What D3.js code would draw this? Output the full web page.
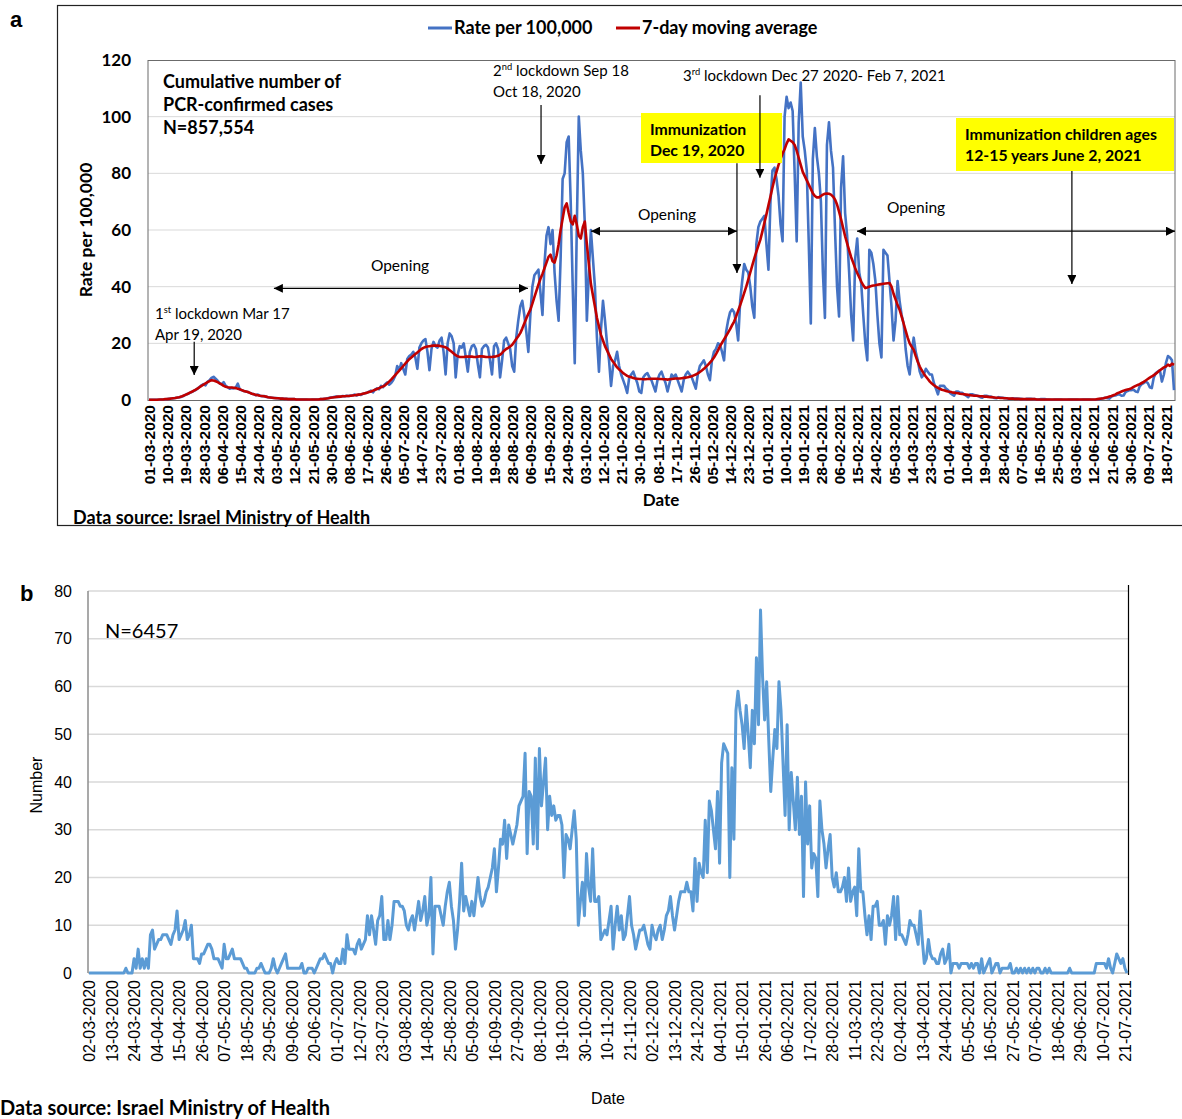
<!DOCTYPE html>
<html>
<head>
<meta charset="utf-8">
<script src="https://cdn.jsdelivr.net/npm/d3@7/dist/d3.min.js"></script>
<style>
  body { margin: 0; background: #fff; }
  svg { display: block; font-family: "Liberation Sans", Arial, sans-serif; }
  .cal { font-family: Lato, "Liberation Sans", sans-serif; }
</style>
</head>
<body>
<svg id="chart" width="1182" height="1119"></svg>
<script>
// ---- Panel a: daily rate per 100,000 (01-03-2020 .. 22-07-2021)
const rateA = [
  0.1,0.1,0.1,0.1,0.1,0.1,0.2,0.2,0.2,0.3, 0.4,0.5,0.6,0.7,0.8,1.0,1.1,1.4,1.8,2.1,
  2.4,2.8,3.1,3.5,4.0,4.6,5.2,5.6,5.2,6.4, 7.0,7.8,8.2,7.5,6.8,5.9,5.5,6.3,5.0,4.5,
  4.0,4.2,4.1,4.4,5.8,3.7,3.4,3.2,3.0,2.8, 2.5,2.2,2.0,1.7,1.9,1.5,1.3,1.4,1.1,1.0,
  0.9,0.8,0.7,0.7,0.6,0.5,0.5,0.4,0.4,0.3, 0.3,0.3,0.3,0.2,0.2,0.2,0.2,0.2,0.2,0.1,
  0.1,0.2,0.2,0.2,0.2,0.3,0.3,0.4,0.5,0.7, 0.9,1.0,1.1,1.2,1.1,1.2,1.4,1.3,1.5,1.4,
  1.6,1.7,1.9,1.6,2.0,1.8,2.2,2.4,2.6,2.9, 3.3,2.7,3.6,4.1,3.8,5.0,4.5,5.6,6.2,5.4,
  6.0,7.0,8.5,12.0,10.5,13.0,11.0,9.0,14.5,15.5, 16.0,17.0,15.0,11.0,18.5,20.0,21.0,21.5,17.0,10.5,
  18.0,20.5,19.0,18.5,21.0,22.0,17.0,9.0,20.0,23.5, 22.5,20.0,8.0,16.0,19.0,18.5,20.0,15.0,10.0,17.0,
  19.0,19.5,18.0,12.5,8.0,18.0,19.0,19.5,18.5,14.0, 9.0,19.0,20.0,18.0,8.0,14.0,21.0,22.0,20.0,18.0,
  12,10,22,28,33,35,30,24,17,30, 40,44,45,46,38,30,48,58,61,55,
  60,45,35,28,50,78,80,91,93,70, 40,13,60,100,88,80,62,28,45,60,
  50,40,22,10,25,35,28,20,14,5, 12,14,17,12,9,7,5,2.5,8,9,
  10,8,6,3,2.5,8,9,9.5,8,7, 5,3,7,9,10,8,6,3,6,9,
  8,9,7,5,3,7,9,10,9,8, 6,4,9,12,13,14,12,9,7,14,
  17,18,20,19.5,17,14,24,28,31,32, 31,27,21,35,42,48,46,45,40,33,
  29,55,61,63,64,65,55,46,70,81, 82,78,72,62,56,100,107,103,105,102,
  80,56,98,112,93,88,81,55,27,85, 96,86,80,70,45,29,90,98,88,82,
  60,40,29.5,75,86,66,58,45,30,21, 50,57,45,41,30,20,14,53,52,48,
  42,30,20,15,53,52,51,42,33,21, 28,42,35,30,27,18,12,9,17,22,
  17,14,10,8,9,11,10,9,9,6, 4,2,5,5,5,4,3.5,2.5,2,1.5,
  3,3,2.5,2.5,2,1.5,1,2,2,1.8, 1.6,1.4,1,0.8,1.5,1.5,1.3,1.2,1,0.7,
  0.6,1,0.9,0.8,0.7,0.6,0.4,0.4,0.6,0.5, 0.5,0.4,0.4,0.3,0.2,0.4,0.4,0.4,0.3,0.3,
  0.2,0.2,0.3,0.3,0.3,0.2,0.2,0.1,0.1,0.2, 0.2,0.2,0.2,0.1,0.1,0.1,0.2,0.2,0.2,0.2,
  0.2,0.1,0.1,0.2,0.2,0.2,0.2,0.1,0.1,0.1, 0.2,0.3,0.4,0.6,0.8,0.6,0.5,1.2,1.5,1.6,
  1.9,2.0,1.5,1.6,2.8,3.2,3.5,3.5,3.6,3.0, 2.8,4.8,5.6,6.0,6.5,6.0,4.5,4.2,8.0,9.5,
  10.0,10.5,6.5,9.0,13.0,15.5,15.0,14.0,3.5
];
const avgA = [
  0.1,0.1,0.1,0.1,0.1,0.2,0.2,0.2,0.3,0.3, 0.4,0.5,0.6,0.7,0.9,1.0,1.2,1.5,1.8,2.1,
  2.5,2.8,3.2,3.6,4.0,4.5,5.0,5.4,5.9,6.3, 6.7,7.0,6.9,6.6,6.3,5.9,5.5,5.0,4.7,4.5,
  4.4,4.4,4.3,4.2,4.0,3.8,3.5,3.2,3.0,2.8, 2.5,2.2,2.0,1.8,1.7,1.5,1.4,1.3,1.2,1.0,
  0.9,0.8,0.7,0.6,0.6,0.5,0.5,0.4,0.4,0.3, 0.3,0.3,0.3,0.2,0.2,0.2,0.2,0.2,0.2,0.2,
  0.2,0.2,0.2,0.2,0.2,0.3,0.3,0.4,0.5,0.6, 0.8,0.9,1.0,1.1,1.2,1.2,1.3,1.3,1.4,1.4,
  1.5,1.6,1.7,1.8,1.9,2.0,2.2,2.4,2.6,2.8, 3.0,3.3,3.6,3.9,4.2,4.5,4.8,5.2,5.8,6.5,
  7.2,8.0,8.8,9.6,10.4,11.2,12.0,12.8,13.6,14.4, 15.0,15.6,16.2,16.8,17.4,18.0,18.4,18.7,18.9,19.0,
  19.1,19.2,19.2,19.2,19.1,19.0,18.8,18.6,18.2,17.6, 17.0,16.4,15.8,15.4,15.2,15.2,15.2,15.3,15.3,15.3,
  15.3,15.2,15.2,15.3,15.4,15.4,15.3,15.2,15.2,15.2, 15.2,15.3,15.4,15.6,16.0,16.6,17.4,18.0,18.4,18.9,
  19.5,20.5,21.5,22.5,23.6,25.2,27.0,28.8,30.4,31.9, 34.0,36.3,38.5,40.7,42.8,44.5,46.5,48.5,50.5,51.3,
  49.0,48.5,51.0,55.0,60.0,64.0,68.0,69.4,66.0,63.0, 62.0,65.0,62.0,58.0,57.0,61.0,63.0,55.0,48.0,41.0,
  37.0,33.0,29.0,26.0,23.0,21.0,19.0,17.5,16.0,14.5, 13.5,12.5,11.5,10.8,10.2,9.5,9.0,8.5,8.2,8.0,
  7.8,7.6,7.5,7.4,7.4,7.3,7.3,7.4,7.4,7.5, 7.5,7.5,7.5,7.4,7.4,7.3,7.3,7.2,7.3,7.4,
  7.5,7.6,7.6,7.6,7.7,7.8,7.9,8.0,8.2,8.4, 8.7,9.0,9.4,9.9,10.4,11.0,11.7,12.4,13.2,14.0,
  15.0,16.2,17.5,19.0,20.2,21.4,22.6,23.8,25.0,26.4, 27.7,29.5,31.5,33.5,35.6,37.8,40.0,42.5,45.0,47.5,
  50.0,52.3,54.5,56.6,59.5,62.5,65.5,68.7,71.8,75.0, 78.0,80.5,83.0,85.0,87.0,88.5,90.5,92.0,91.5,91.0,
  90.0,88.0,85.5,83.0,80.5,79.0,77.5,76.0,74.5,73.0, 72.0,71.5,71.5,72.0,72.5,72.8,72.9,72.8,72.5,71.8,
  70.8,69.0,66.5,63.8,60.8,57.8,55.3,52.8,50.4,48.5, 46.5,44.8,43.3,41.8,40.5,39.5,39.7,40.0,40.2,40.4,
  40.5,40.7,40.8,40.9,41.0,41.1,41.2,41.3,40.0,37.5, 35.5,33.5,31.9,29.5,27.0,24.5,22.0,20.0,18.8,17.7,
  15.5,13.5,11.8,10.5,9.3,8.3,7.4,6.5,5.8,5.2, 4.7,4.3,3.9,3.6,3.4,3.2,3.0,2.9,2.7,2.6,
  2.5,2.4,2.2,2.1,2.0,1.9,1.8,1.7,1.6,1.5, 1.5,1.4,1.3,1.3,1.2,1.2,1.1,1.0,1.0,0.9,
  0.8,0.8,0.7,0.7,0.6,0.6,0.5,0.5,0.5,0.4, 0.4,0.4,0.3,0.3,0.3,0.3,0.3,0.3,0.3,0.3,
  0.2,0.2,0.2,0.2,0.2,0.2,0.2,0.2,0.2,0.2, 0.2,0.2,0.2,0.2,0.2,0.2,0.2,0.2,0.2,0.2,
  0.2,0.2,0.2,0.2,0.2,0.2,0.2,0.2,0.2,0.2, 0.3,0.4,0.5,0.6,0.8,1.0,1.2,1.4,1.7,2.0,
  2.4,2.7,3.0,3.3,3.5,3.7,3.9,4.2,4.6,5.0, 5.3,5.6,6.0,6.4,6.9,7.4,7.9,8.3,8.8,9.3,
  9.9,10.5,11.0,11.5,11.8,12.5,12.0,12.8,12.4
];
const ticksA = ["01-03-2020","10-03-2020","19-03-2020","28-03-2020","06-04-2020","15-04-2020","24-04-2020",
  "03-05-2020","12-05-2020","21-05-2020","30-05-2020","08-06-2020","17-06-2020","26-06-2020","05-07-2020",
  "14-07-2020","23-07-2020","01-08-2020","10-08-2020","19-08-2020","28-08-2020","06-09-2020","15-09-2020",
  "24-09-2020","03-10-2020","12-10-2020","21-10-2020","30-10-2020","08-11-2020","17-11-2020","26-11-2020",
  "05-12-2020","14-12-2020","23-12-2020","01-01-2021","10-01-2021","19-01-2021","28-01-2021","06-02-2021",
  "15-02-2021","24-02-2021","05-03-2021","14-03-2021","23-03-2021","01-04-2021","10-04-2021","19-04-2021",
  "28-04-2021","07-05-2021","16-05-2021","25-05-2021","03-06-2021","12-06-2021","21-06-2021","30-06-2021",
  "09-07-2021","18-07-2021"];
const tickStepA = 9;
const yTicksA = [0, 20, 40, 60, 80, 100, 120];

// ---- Panel b: daily number (02-03-2020 .. 22-07-2021)
const countB = [
  0,0,0,0,0,0,0,0,0,0, 0,0,0,0,0,0,0,0,1,0, 0,0,3,1,5,1,3,1,3,1, 8,9,5,6,7,7,8,8,8,7,
  6,8,9,13,7,8,9,11,7,8, 10,3,3,3,2,4,4,5,6,6, 5,3,3,3,2,1,6,3,3,4, 5,3,3,3,3,2,1,1,0,0,
  0,0,1,1,2,1,0,0,0,1, 3,1,0,1,2,3,4,1,1,1, 1,1,1,1,2,0,0,1,1,1, 0,1,2,3,3,4,3,2,2,0,
  2,3,2,2,5,2,8,5,5,5, 4,6,7,5,6,7,12,8,12,9, 6,11,12,16,7,7,11,7,10,15, 15,15,14,14,13,10,9,11,12,9,
  12,15,11,13,16,10,12,20,4,14, 14,14,12,10,14,17,19,14,11,5, 9,15,23,13,16,14,12,15,12,16,
  20,16,14,15,17,18,20,22,26,17, 22,28,27,32,24,31,29,27,29,31, 35,36,37,46,25,38,37,27,45,26,
  47,35,40,45,30,37,33,35,32,33, 33,31,20,29,28,26,30,34,28,10, 15,19,12,25,18,15,26,15,15,16,
  7,8,9,8,11,14,5,10,14,9, 12,7,8,12,16,10,8,5,7,9, 9,10,8,6,5,10,8,7,9,10,
  7,9,12,13,16,12,9,12,15,17, 17,17,19,17,17,13,24,15,23,21, 20,32,21,36,34,30,26,38,23,44,
  48,47,46,20,43,28,55,59,55,52, 47,56,50,43,55,48,66,52,76,62, 53,61,49,38,45,51,47,61,55,44,
  33,52,30,42,36,30,41,29,37,16, 40,27,35,22,25,24,16,36,30,27, 22,26,29,20,18,21,17,17,18,20,
  15,22,15,17,18,12,26,17,17,12, 8,12,7,14,14,15,10,10,11,6, 12,10,12,16,7,16,8,8,7,6,
  8,11,10,10,8,6,13,7,2,3, 7,4,3,3,2,2,4,5,2,3, 6,0,2,2,2,1,2,2,2,2,
  1,2,1,2,2,0,3,0,1,2, 3,0,1,2,2,0,1,1,1,1, 2,0,0,1,0,1,0,1,0,1,
  0,1,0,1,1,0,0,1,0,1, 0,0,0,0,0,0,0,0,0,1, 0,0,0,0,0,0,0,0,0,0,
  0,0,2,2,2,2,2,1,3,1, 0,2,4,3,2,3,1,0
];
const ticksB = ["02-03-2020","13-03-2020","24-03-2020","04-04-2020","15-04-2020","26-04-2020","07-05-2020",
  "18-05-2020","29-05-2020","09-06-2020","20-06-2020","01-07-2020","12-07-2020","23-07-2020","03-08-2020",
  "14-08-2020","25-08-2020","05-09-2020","16-09-2020","27-09-2020","08-10-2020","19-10-2020","30-10-2020",
  "10-11-2020","21-11-2020","02-12-2020","13-12-2020","24-12-2020","04-01-2021","15-01-2021","26-01-2021",
  "06-02-2021","17-02-2021","28-02-2021","11-03-2021","22-03-2021","02-04-2021","13-04-2021","24-04-2021",
  "05-05-2021","16-05-2021","27-05-2021","07-06-2021","18-06-2021","29-06-2021","10-07-2021","21-07-2021"];
const tickStepB = 11;
const yTicksB = [0, 10, 20, 30, 40, 50, 60, 70, 80];

const svg = d3.select("#chart");

svg.append("defs").append("marker")
  .attr("id", "arr")
  .attr("viewBox", "0 0 10 10")
  .attr("refX", 10).attr("refY", 5)
  .attr("markerWidth", 9).attr("markerHeight", 9)
  .attr("markerUnits", "userSpaceOnUse")
  .attr("orient", "auto-start-reverse")
  .append("path").attr("d", "M0,0 L10,5 L0,10 z").attr("fill", "#000");

/* ================= PANEL A ================= */
const A = { left: 148, right: 1175, top: 60, bottom: 400 };
const xA = d3.scaleLinear().domain([-0.5, rateA.length - 0.5]).range([A.left, A.right]);
const yA = d3.scaleLinear().domain([0, 120]).range([A.bottom, A.top]);
const gA = svg.append("g");

// outer frame
gA.append("rect").attr("x", 57.5).attr("y", 5.5).attr("width", 1140).attr("height", 520)
  .attr("fill", "none").attr("stroke", "#222").attr("stroke-width", 1.2);

gA.append("text").attr("x", 10).attr("y", 27).attr("font-size", 22).attr("font-weight", "bold").text("a");

// gridlines
gA.selectAll("line.grid").data(yTicksA.slice(1, -1)).join("line")
  .attr("class", "grid")
  .attr("x1", A.left).attr("x2", A.right)
  .attr("y1", d => yA(d)).attr("y2", d => yA(d))
  .attr("stroke", "#d9d9d9").attr("stroke-width", 1);

gA.append("rect").attr("x", A.left).attr("y", A.top + 0.5)
  .attr("width", A.right - A.left).attr("height", A.bottom - A.top)
  .attr("fill", "none").attr("stroke", "#6b6b6b").attr("stroke-width", 1);

// axes
const yAxA = gA.append("g").attr("transform", `translate(${A.left},0)`)
  .call(d3.axisLeft(yA).tickValues(yTicksA).tickSize(0).tickPadding(17));
yAxA.select(".domain").remove();
yAxA.selectAll("text").attr("font-size", 17).attr("font-weight", "bold")
  .attr("font-family", "Lato, 'Liberation Sans', sans-serif").attr("fill", "#000");

const xAxA = gA.append("g").attr("transform", `translate(0,${A.bottom})`)
  .call(d3.axisBottom(xA).tickValues(d3.range(0, ticksA.length * tickStepA, tickStepA))
    .tickFormat(i => ticksA[i / tickStepA]).tickSize(0));
xAxA.select(".domain").remove();
xAxA.selectAll("text")
  .attr("transform", "rotate(-90)")
  .attr("text-anchor", "end")
  .attr("x", -5).attr("y", 0).attr("dy", "0.36em")
  .attr("font-size", 15.5).attr("font-weight", "bold").attr("fill", "#000");

// lines
gA.append("path").datum(rateA)
  .attr("d", d3.line().x((d, i) => xA(i)).y(d => yA(d)))
  .attr("fill", "none").attr("stroke", "#4472C4").attr("stroke-width", 2.6)
  .attr("stroke-linejoin", "round");
gA.append("path").datum(avgA)
  .attr("d", d3.line().x((d, i) => xA(i)).y(d => yA(d)))
  .attr("fill", "none").attr("stroke", "#C00000").attr("stroke-width", 2.6)
  .attr("stroke-linejoin", "round");

// legend
const legA = [
  { label: "Rate per 100,000", color: "#4472C4", x: 428 },
  { label: "7-day moving average", color: "#C00000", x: 616 }
];
const lg = gA.selectAll("g.leg").data(legA).join("g").attr("class", "leg")
  .attr("transform", d => `translate(${d.x},28)`);
lg.append("line").attr("x1", 0).attr("x2", 24).attr("stroke", d => d.color).attr("stroke-width", 3);
lg.append("text").attr("class", "cal").attr("x", 26).attr("y", 6)
  .attr("font-size", 18).attr("font-weight", "bold").text(d => d.label);

// axis titles
gA.append("text").attr("class", "cal")
  .attr("transform", "translate(92,230) rotate(-90)").attr("text-anchor", "middle")
  .attr("font-size", 17.5).attr("font-weight", "bold").text("Rate per 100,000");
gA.append("text").attr("class", "cal").attr("x", 661).attr("y", 506).attr("text-anchor", "middle")
  .attr("font-size", 17).attr("font-weight", "bold").text("Date");
gA.append("text").attr("class", "cal").attr("x", 73).attr("y", 524)
  .attr("font-size", 18).attr("font-weight", "bold").text("Data source: Israel Ministry of Health");

// annotations
const cum = gA.append("text").attr("class", "cal").attr("font-size", 18).attr("font-weight", "bold");
["Cumulative number of", "PCR-confirmed cases", "N=857,554"].forEach((t, k) =>
  cum.append("tspan").attr("x", 163).attr("y", 88 + k * 23).text(t));

function supText(x, y, pre, sup, post, size) {
  const t = gA.append("text").attr("class", "cal").attr("x", x).attr("y", y).attr("font-size", size);
  t.append("tspan").text(pre);
  t.append("tspan").attr("font-size", size * 0.62).attr("dy", -6).text(sup);
  t.append("tspan").attr("dy", 6).text(post);
  return t;
}
supText(493, 76, "2", "nd", " lockdown Sep 18", 15);
gA.append("text").attr("class", "cal").attr("x", 493).attr("y", 97).attr("font-size", 15).text("Oct 18, 2020");
supText(683, 81, "3", "rd", " lockdown Dec 27 2020- Feb 7, 2021", 15);
supText(155, 319, "1", "st", " lockdown Mar 17", 15);
gA.append("text").attr("class", "cal").attr("x", 155).attr("y", 340).attr("font-size", 15).text("Apr 19, 2020");

const openings = [
  { from: 61.9, to: 187.8, v: 39.4, tx: 400, ty: 271 },
  { from: 219.1, to: 291.4, v: 59.6, tx: 667, ty: 220 },
  { from: 350.9, to: 508.5, v: 59.6, tx: 916, ty: 213 }
];
openings.forEach(o => {
  gA.append("line").attr("x1", xA(o.from)).attr("x2", xA(o.to))
    .attr("y1", yA(o.v)).attr("y2", yA(o.v))
    .attr("stroke", "#000").attr("stroke-width", 1.2)
    .attr("marker-start", "url(#arr)").attr("marker-end", "url(#arr)");
  gA.append("text").attr("class", "cal").attr("x", o.tx).attr("y", o.ty)
    .attr("text-anchor", "middle").attr("font-size", 15.5).text("Opening");
});

// yellow boxes
const boxes = [
  { x: 641, y: 113, w: 141, h: 50, lines: ["Immunization", "Dec 19, 2020"] },
  { x: 956, y: 118, w: 218, h: 53, lines: ["Immunization children ages", "12-15 years June 2, 2021"] }
];
boxes.forEach(b => {
  gA.append("rect").attr("x", b.x).attr("y", b.y).attr("width", b.w).attr("height", b.h).attr("fill", "#FFFF00");
  const t = gA.append("text").attr("class", "cal").attr("font-size", 15.8).attr("font-weight", "bold");
  b.lines.forEach((l, k) => t.append("tspan").attr("x", b.x + 9).attr("y", b.y + 22 + k * 21).text(l));
});

// vertical arrows (index, value from, value to)
const downArrows = [
  { i: 22.4, v0: 20.6, v1: 8.8 },
  { i: 194.3, v0: 104.1, v1: 83.3 },
  { i: 291.4, v0: 83.6, v1: 44.8 },
  { i: 302.8, v0: 107.6, v1: 78.4 },
  { i: 457.4, v0: 80.8, v1: 40.9 }
];
gA.selectAll("line.darr").data(downArrows).join("line").attr("class", "darr")
  .attr("x1", d => xA(d.i)).attr("x2", d => xA(d.i))
  .attr("y1", d => yA(d.v0)).attr("y2", d => yA(d.v1))
  .attr("stroke", "#000").attr("stroke-width", 1.2).attr("marker-end", "url(#arr)");

/* ================= PANEL B ================= */
const B = { left: 88, right: 1128, top: 591, bottom: 973 };
const xB = d3.scaleLinear().domain([-0.5, countB.length - 0.5]).range([B.left, B.right]);
const yB = d3.scaleLinear().domain([0, 80]).range([B.bottom, B.top]);
const gB = svg.append("g");

gB.append("text").attr("x", 20).attr("y", 601).attr("font-size", 22).attr("font-weight", "bold").text("b");

gB.selectAll("line.grid").data(yTicksB.slice(1)).join("line")
  .attr("class", "grid")
  .attr("x1", B.left).attr("x2", B.right)
  .attr("y1", d => yB(d)).attr("y2", d => yB(d))
  .attr("stroke", "#d9d9d9").attr("stroke-width", 1.3);

gB.append("line").attr("x1", B.left).attr("x2", B.right).attr("y1", B.bottom).attr("y2", B.bottom)
  .attr("stroke", "#bfbfbf").attr("stroke-width", 1.5);
gB.append("line").attr("x1", B.left).attr("x2", B.left).attr("y1", B.top).attr("y2", B.bottom)
  .attr("stroke", "#8c8c8c").attr("stroke-width", 1.5);
gB.append("line").attr("x1", B.right + 0.5).attr("x2", B.right + 0.5).attr("y1", 585).attr("y2", 975)
  .attr("stroke", "#000").attr("stroke-width", 1.2);

const yAxB = gB.append("g").attr("transform", `translate(${B.left},0)`)
  .call(d3.axisLeft(yB).tickValues(yTicksB).tickSize(0).tickPadding(16));
yAxB.select(".domain").remove();
yAxB.selectAll("text").attr("font-size", 16).attr("fill", "#000");

const xAxB = gB.append("g").attr("transform", `translate(0,${B.bottom})`)
  .call(d3.axisBottom(xB).tickValues(d3.range(0, ticksB.length * tickStepB, tickStepB))
    .tickFormat(i => ticksB[i / tickStepB]).tickSize(0));
xAxB.select(".domain").remove();
xAxB.selectAll("text")
  .attr("transform", "rotate(-90)")
  .attr("text-anchor", "end")
  .attr("x", -7).attr("y", 0).attr("dy", "0.36em")
  .attr("font-size", 16).attr("fill", "#000");

gB.append("path").datum(countB)
  .attr("d", d3.line().x((d, i) => xB(i)).y(d => yB(d)))
  .attr("fill", "none").attr("stroke", "#5B9BD5").attr("stroke-width", 3)
  .attr("stroke-linejoin", "round");

gB.append("text").attr("class", "cal").attr("x", 105).attr("y", 638).attr("font-size", 20).text("N=6457");
gB.append("text").attr("transform", "translate(42,785) rotate(-90)").attr("text-anchor", "middle")
  .attr("font-size", 16).text("Number");
gB.append("text").attr("x", 608).attr("y", 1104).attr("text-anchor", "middle")
  .attr("font-size", 16).text("Date");
gB.append("text").attr("class", "cal").attr("x", 0).attr("y", 1115)
  .attr("font-size", 20).attr("font-weight", "bold").text("Data source: Israel Ministry of Health");
</script>
</body>
</html>
